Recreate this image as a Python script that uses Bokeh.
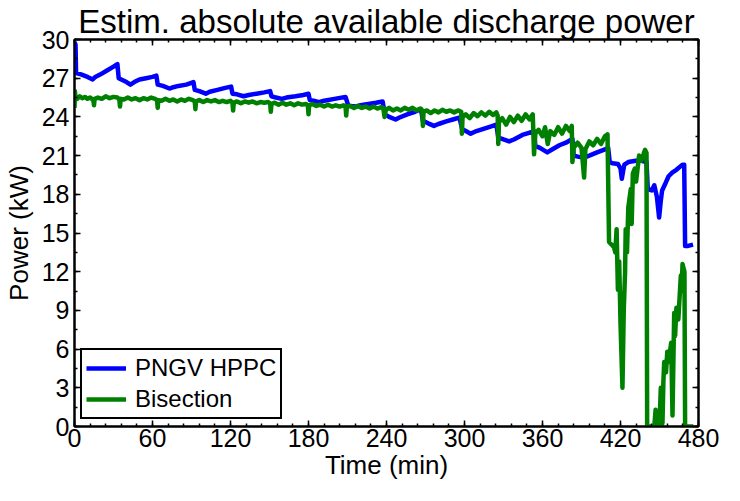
from bokeh.plotting import figure
from bokeh.models import (FixedTicker, LinearAxis, Range1d, Legend, LegendItem,
                          CustomJSTickFormatter)
from bokeh.embed import file_html
from bokeh.resources import INLINE

# ---------------- data ----------------
title_text = "Estim. absolute available discharge power"
x_label = "Time (min)"
y_label = "Power (kW)"
x_ticks = [0, 60, 120, 180, 240, 300, 360, 420, 480]
x_minor = [i * 12 for i in range(41)]
y_ticks = [0, 3, 6, 9, 12, 15, 18, 21, 24, 27, 30]
y_minor = [i * 1.5 for i in range(21)]

hppc_t = [0, 0.8, 1.2, 5, 10, 14, 16, 20, 25, 30, 33, 34, 36, 40, 43, 46, 50, 55,
          60, 63, 64, 68, 73, 76, 80, 86, 91.5, 92.5, 96, 101, 104, 110, 116, 120.5,
          121.5, 125, 130, 134, 140, 146, 150.5, 151.5, 155, 159.5, 163, 170, 176,
          180, 181, 184, 188, 192, 200, 208.5, 210.5, 213, 216, 220, 226, 232, 237,
          238.8, 242, 247, 250, 256, 262, 266.5, 268, 272, 276.5, 280, 286, 291, 296,
          298.3, 301, 304.7, 308, 314, 320, 324.5, 326, 330, 334.3, 338, 344.5, 349,
          353.5, 354.5, 358, 363.7, 367, 373, 378, 383, 384, 388, 392, 396, 402,
          408.6, 410.5, 411.7, 414, 418, 420, 421, 422, 423, 426, 431.7, 436, 440,
          441, 444, 446, 448, 449.7, 451, 452, 454.8, 457, 460, 463, 467.7, 469,
          469.7, 472, 475.8]
hppc_p = [29.8, 29.6, 27.4, 27.3, 27.1, 26.9, 27.1, 27.3, 27.6, 27.9, 28.1, 27.0, 26.9,
          26.7, 26.5, 26.7, 26.9, 27.0, 27.1, 27.2, 26.5, 26.4, 26.2, 26.3, 26.4, 26.5,
          26.7, 26.1, 26.0, 25.8, 25.95, 26.1, 26.25, 26.35, 25.8, 25.75, 25.6, 25.7,
          25.8, 25.9, 26.0, 25.6, 25.5, 25.4, 25.5, 25.6, 25.7, 25.8, 25.3, 25.25,
          25.15, 25.25, 25.4, 25.55, 24.9, 24.85, 24.8, 24.9, 25.0, 25.1, 25.2, 24.2,
          24.0, 23.8, 23.95, 24.2, 24.4, 24.6, 23.7, 23.5, 23.3, 23.45, 23.65, 23.8,
          23.95, 23.05, 22.9, 22.7, 22.85, 23.05, 23.25, 23.4, 22.4, 22.25, 22.1,
          22.25, 22.6, 22.75, 22.9, 21.75, 21.6, 21.25, 21.45, 21.8, 22.0, 22.3, 21.0,
          20.9, 20.85, 21.0, 21.25, 21.5, 21.6, 20.5, 20.4, 20.35, 20.0, 19.2, 19.8,
          20.3, 20.5, 20.6, 20.6, 20.5, 18.4, 18.3, 18.7, 17.8, 16.2, 17.5, 18.3, 18.9,
          19.4, 19.7, 19.9, 20.3, 20.3, 14.0, 14.0, 14.1]

bisect_t = [0, 0.3, 0.8, 2, 4, 6, 8, 10, 12, 14.5, 15, 15.5, 18, 21, 24, 27, 30, 33,
            34.5, 35, 35.5, 38, 41, 44, 47, 50, 53, 56, 59, 62, 63.5, 64, 64.5, 67,
            70, 73, 76, 79, 82, 85, 88, 91, 92.5, 93, 93.5, 96, 99, 102, 105, 108,
            111, 114, 117, 120, 121.5, 122, 122.5, 125, 128, 131, 134, 137, 140, 143,
            146, 149, 150.5, 151, 151.5, 154, 157, 160, 163, 166, 169, 172, 175, 178,
            179.5, 180, 180.5, 183, 186, 189, 192, 195, 198, 201, 204, 207, 208.5,
            209, 209.5, 212, 215, 218, 221, 224, 227, 230, 233, 236, 237.5, 238.5,
            239.5, 242, 245, 248, 251, 254, 257, 260, 263, 266, 267.5, 268, 268.5,
            271, 274, 277, 280, 283, 286, 289, 292, 295, 297.5, 298, 298.5, 301, 304,
            307, 310, 313, 316, 319, 322, 324.5, 325.5, 326, 326.5, 329, 332, 335,
            338, 341, 344, 347, 350, 352.5, 353.5, 354.5, 357, 360, 362, 364, 366,
            369, 372, 375, 378, 381, 382.5, 383, 384, 387, 390, 392, 393, 396, 399,
            402, 405, 408, 410, 411.2, 415, 416, 417, 418, 419, 420, 421.5, 422.5,
            423.5, 424, 425, 426, 427.9, 428.6, 429.5, 431, 432, 434.3, 436, 438.9,
            440, 440.5, 446, 447, 447.6, 450, 451, 451.5, 452.3, 453, 453.6, 455, 456,
            457, 459, 460, 461.3, 462, 463, 464.5, 466.4, 467, 467.7, 469.2, 469.7,
            476]
bisect_p = [24.7, 26.0, 25.5, 25.4, 25.6, 25.45, 25.55, 25.4, 25.5, 25.3, 24.9, 25.4,
            25.5, 25.4, 25.6, 25.45, 25.55, 25.5, 25.35, 24.8, 25.4, 25.35, 25.5, 25.35,
            25.45, 25.3, 25.45, 25.35, 25.5, 25.4, 25.3, 24.7, 25.3, 25.25, 25.4, 25.25,
            25.35, 25.2, 25.35, 25.25, 25.4, 25.3, 25.2, 24.6, 25.2, 25.3, 25.15, 25.3,
            25.2, 25.3, 25.15, 25.25, 25.15, 25.25, 25.1, 24.5, 25.1, 25.2, 25.05, 25.2,
            25.1, 25.2, 25.05, 25.15, 25.1, 25.15, 25.05, 24.4, 25.0, 25.1, 24.95, 25.1,
            24.95, 25.05, 24.9, 25.05, 24.95, 25.0, 24.9, 24.2, 24.9, 25.0, 24.85, 24.95,
            24.8, 24.95, 24.8, 24.9, 24.8, 24.9, 24.8, 24.1, 24.8, 24.85, 24.7, 24.85,
            24.7, 24.8, 24.65, 24.8, 24.65, 24.75, 24.7, 24.0, 24.55, 24.7, 24.5, 24.65,
            24.5, 24.7, 24.55, 24.7, 24.5, 24.65, 24.5, 23.3, 24.4, 24.5, 24.3, 24.5,
            24.35, 24.55, 24.4, 24.5, 24.35, 24.5, 24.4, 22.7, 24.0, 24.2, 23.9, 24.3,
            24.05, 24.35, 24.1, 24.4, 24.15, 24.35, 24.1, 21.9, 23.6, 23.9, 23.4, 24.0,
            23.6, 24.1, 23.7, 24.2, 23.8, 24.2, 21.1, 22.7, 23.0, 22.5, 23.2, 21.9, 22.9,
            22.6, 23.2, 22.7, 23.3, 22.9, 23.3, 20.5, 21.6, 22.0, 21.6, 19.3, 21.5, 22.1,
            21.8, 22.3, 21.9, 22.5, 22.65, 14.3, 13.9, 13.5, 15.3, 10.6, 12.8, 8.0, 3.0,
            9.0, 11.9, 15.3, 13.5, 17.0, 18.4, 15.7, 19.6, 20.0, 19.0, 21.0, 20.6, 21.45,
            21.2, 0, 0, 1.3, 0, 0, 3.0, 0, 0.3, 3.5, 5.0, 4.2, 5.8, 5.0, 6.5, 0.85, 8.8,
            7.0, 9.2, 8.3, 11.7, 10.5, 12.6, 12.0, 0, 0]

series_names = ["PNGV HPPC", "Bisection"]
series_colors = ["#0000ff", "#008000"]

X_START, X_END = 0, 480
Y_START, Y_END = 0, 30

# ---------------- figure ----------------
FONT = "Liberation Sans"

p = figure(width=724, height=485, output_backend="svg", toolbar_location=None,
           x_range=Range1d(X_START, X_END), y_range=Range1d(Y_START, Y_END),
           min_border_left=74, min_border_right=26, min_border_top=39,
           min_border_bottom=59, background_fill_color="white",
           border_fill_color="white")

p.title.text = title_text
p.title.align = "center"
p.title.text_font = FONT
p.title.text_font_size = "33px"
p.title.text_font_style = "normal"
p.title.text_color = "black"
p.title.text_line_height = 1.0
p.title.standoff = 0

p.xgrid.visible = False
p.ygrid.visible = False
p.outline_line_color = "black"
p.outline_line_alpha = 1
p.outline_line_width = 2

r_blue = p.line(hppc_t, hppc_p, line_color=series_colors[0], line_width=4.5,
                line_join="round")
r_green = p.line(bisect_t, bisect_p, line_color=series_colors[1], line_width=4.5,
                 line_join="round")


def style_axis(ax, ticks, minor, show_labels):
    ax.ticker = FixedTicker(ticks=ticks, minor_ticks=minor)
    ax.axis_line_color = "black"
    ax.axis_line_width = 2
    ax.major_tick_line_color = "black"
    ax.minor_tick_line_color = "black"
    ax.major_tick_line_width = 1.5
    ax.minor_tick_line_width = 1.5
    ax.major_tick_in = 6
    ax.major_tick_out = 0
    ax.minor_tick_in = 3
    ax.minor_tick_out = 0
    if show_labels:
        ax.major_label_text_font = FONT
        ax.major_label_text_font_size = "25px"
        ax.major_label_text_color = "black"
        ax.major_label_text_line_height = 1.0
        ax.axis_label_text_font = FONT
        ax.axis_label_text_font_size = "26px"
        ax.axis_label_text_font_style = "normal"
        ax.axis_label_text_color = "black"
        ax.axis_label_text_line_height = 1.0
    else:
        ax.formatter = CustomJSTickFormatter(code="return ''")
        ax.major_label_text_font_size = "0px"
        ax.major_label_standoff = 0


xa = p.xaxis[0]
ya = p.yaxis[0]
style_axis(xa, x_ticks, x_minor, True)
style_axis(ya, y_ticks, y_minor, True)
xa.axis_label = x_label
ya.axis_label = y_label
xa.major_label_standoff = 2
xa.axis_label_standoff = 0
ya.major_label_standoff = 5
ya.axis_label_standoff = 5

top_ax = LinearAxis()
right_ax = LinearAxis()
style_axis(top_ax, x_ticks, x_minor, False)
style_axis(right_ax, y_ticks, y_minor, False)
p.add_layout(top_ax, "above")
p.add_layout(right_ax, "right")

legend = Legend(items=[LegendItem(label=series_names[0], renderers=[r_blue]),
                       LegendItem(label=series_names[1], renderers=[r_green])],
                location=(6, 7))
legend.border_line_color = "black"
legend.border_line_alpha = 1
legend.border_line_width = 2
legend.background_fill_color = "white"
legend.background_fill_alpha = 1
legend.label_text_font = FONT
legend.label_text_font_size = "24px"
legend.label_text_color = "black"
legend.label_text_line_height = 1.0
legend.glyph_width = 40
legend.glyph_height = 24
legend.label_height = 24
legend.label_standoff = 9
legend.spacing = 3
legend.padding = 4
legend.margin = 0
p.add_layout(legend, "center")

open("out.html", "w").write(file_html(p, INLINE))
